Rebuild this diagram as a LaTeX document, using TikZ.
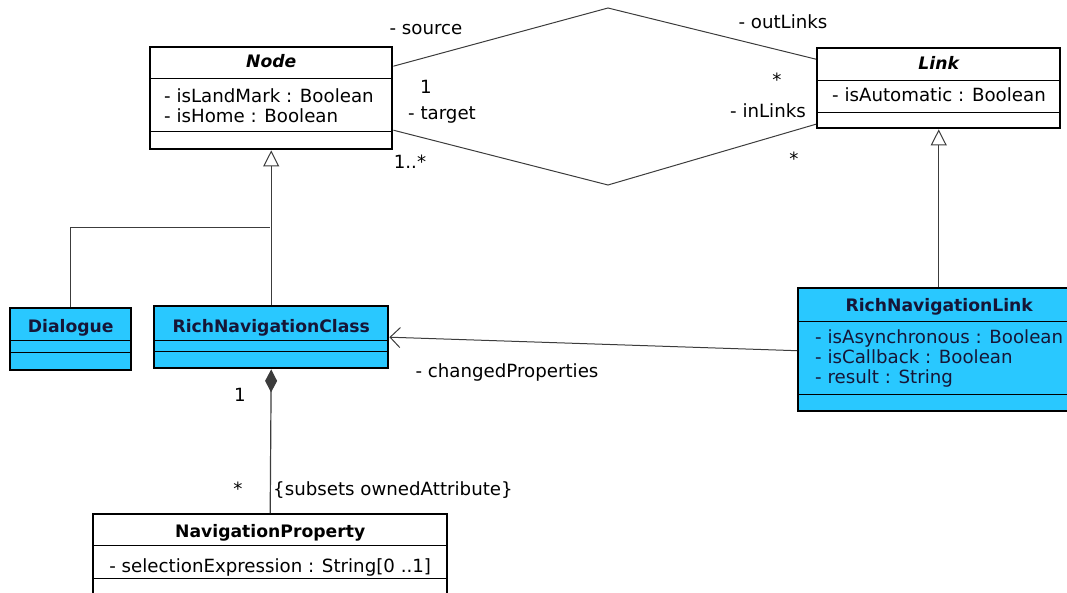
\documentclass[tikz,border=0pt]{standalone}
\usepackage{fontspec}
\setmainfont{DejaVu Sans}
\usepackage{xcolor}
\usepackage{tikz}
\usetikzlibrary{arrows.meta,shapes.geometric,positioning}
\definecolor{richblue}{RGB}{41,200,255}
\definecolor{richtext}{RGB}{22,22,55}
\definecolor{wire}{RGB}{60,60,60}

\begin{document}
\begin{tikzpicture}[
		x=1pt, y=-1pt,
		>=Stealth,
		every node/.style = {font=\fontsize{18.2}{21}\selectfont},
		classbox/.style = {draw, line width=2.4pt, anchor=north west, inner sep=0pt},
		richbox/.style = {classbox, fill=richblue},
		classname/.style = {font=\fontsize{17.2}{21}\selectfont\bfseries, inner sep=0pt},
		attr/.style = {inner sep=0pt},
		divider/.style = {line width=0.9pt},
		wireline/.style = {draw=wire, line width=1pt},
		gen/.style = {wireline, -{Triangle[open, length=16pt, width=16pt]}},
		lbl/.style = {inner sep=0pt}
		]
		\useasboundingbox (0,0) rectangle (1067,593);
		\clip (0,0) rectangle (1067,593);
		
		% Classes -------------------------------------------------------
		\node[classbox, minimum width=242pt, minimum height=102pt] (node) at (149,46) {};
		\node[classname, below=22pt of node.north, anchor=base] (nodeName) {\itshape Node};
		\node[attr, below right=57pt and 15pt of node.north west, anchor=base west] (nodeLand) {- isLandMark : Boolean};
		\node[attr, below=20pt of nodeLand.base west, anchor=base west] (nodeHome) {- isHome : Boolean};
		\draw[divider] ([yshift=-32pt]node.north west) -- ([yshift=-32pt]node.north east);
		\draw[divider] ([yshift=-85pt]node.north west) -- ([yshift=-85pt]node.north east);
		
		\node[classbox, minimum width=243pt, minimum height=80pt] (link) at (816,47) {};
		\node[classname, below=23pt of link.north, anchor=base] (linkName) {\itshape Link};
		\node[attr, below right=55pt and 16pt of link.north west, anchor=base west] (linkAuto) {- isAutomatic : Boolean};
		\draw[divider] ([yshift=-33pt]link.north west) -- ([yshift=-33pt]link.north east);
		\draw[divider] ([yshift=-65pt]link.north west) -- ([yshift=-65pt]link.north east);
		
		\node[richbox, minimum width=121pt, minimum height=62pt] (dialogue) at (9,307) {};
		\node[classname, text=richtext, below=25pt of dialogue.north, anchor=base] (dialogueName) {Dialogue};
		\draw[divider] ([yshift=-33pt]dialogue.north west) -- ([yshift=-33pt]dialogue.north east);
		\draw[divider] ([yshift=-45pt]dialogue.north west) -- ([yshift=-45pt]dialogue.north east);
		
		\node[richbox, minimum width=234pt, minimum height=62pt] (richClass) at (153,305) {};
		\node[classname, text=richtext, below=27pt of richClass.north, anchor=base] (richClassName) {RichNavigationClass};
		\draw[divider] ([yshift=-35pt]richClass.north west) -- ([yshift=-35pt]richClass.north east);
		\draw[divider] ([yshift=-46pt]richClass.north west) -- ([yshift=-46pt]richClass.north east);
		
		% right border of this box lies past the picture's edge
		\node[richbox, minimum width=274pt, minimum height=123pt] (richLink) at (797,287) {};
		\node[classname, text=richtext, below=25pt of richLink.north, xshift=4pt, anchor=base] (richLinkName) {RichNavigationLink};
		\node[attr, text=richtext, below right=56pt and 18pt of richLink.north west, anchor=base west] (richLinkAsync) {- isAsynchronous : Boolean};
		\node[attr, text=richtext, below=20pt of richLinkAsync.base west, anchor=base west] (richLinkCall) {- isCallback : Boolean};
		\node[attr, text=richtext, below=20pt of richLinkCall.base west, anchor=base west] (richLinkResult) {- result : String};
		\draw[divider] ([yshift=-34pt]richLink.north west) -- ([yshift=-34pt]richLink.north east);
		\draw[divider] ([yshift=-107pt]richLink.north west) -- ([yshift=-107pt]richLink.north east);
		
		\node[classbox, minimum width=354pt, minimum height=92pt] (navProp) at (92,513) {};
		\node[classname, below=24pt of navProp.north, anchor=base] (navPropName) {NavigationProperty};
		\node[attr, below=59pt of navProp.north, anchor=base] (navPropSel) {- selectionExpression : String[0 ..1]};
		\draw[divider] ([yshift=-32pt]navProp.north west) -- ([yshift=-32pt]navProp.north east);
		\draw[divider] ([yshift=-65pt]navProp.north west) -- ([yshift=-65pt]navProp.north east);
		
		% Associations --------------------------------------------------
		\coordinate (srcBend) at (608,8);
		\coordinate (tgtBend) at (608,185);
		\coordinate (join) at (270,228);
		\draw[wireline] ([yshift=32pt]node.east) -- (srcBend) -- ([yshift=29pt]link.west);
		\draw[wireline] ([yshift=-32pt]node.east) -- (tgtBend) -- ([yshift=-36pt]link.west);
		
		\draw[gen] (richClass.north) -- (node.south);
		\draw[wireline] (dialogue.north) |- (join);
		\draw[gen] (richLink.north -| link.south) -- (link.south);
		\draw[wireline, -{Straight Barb[length=10pt, width=20pt]}] ([yshift=-1pt]richLink.west) -- (richClass.east);
		\draw[wireline, -{Diamond[length=23pt, width=12pt]}, line width=1.2pt] (navProp.north) -- (richClass.south);
		
		% Labels --------------------------------------------------------
		\node[lbl] (srcRole)  at (426,30)  {- source};
		\node[lbl] (srcMult)  at (426,87)  {1};
		\node[lbl] (tgtRole)  at (442,115) {- target};
		\node[lbl] (tgtMult)  at (410,162) {1..*};
		\node[lbl] (outRole)  at (783,22)  {- outLinks};
		\node[lbl] (outMult)  at (777,80)  {*};
		\node[lbl] (inRole)   at (768,111) {- inLinks};
		\node[lbl] (inMult)   at (794,159) {*};
		\node[lbl] (chgRole)  at (507,372) {- changedProperties};
		\node[lbl] (ownMult)  at (240,395) {1};
		\node[lbl] (partMult) at (238,489) {*};
		\node[lbl, anchor=west] (subsets) at (273,490) {\{subsets ownedAttribute\}};
	\end{tikzpicture}
\end{document}
